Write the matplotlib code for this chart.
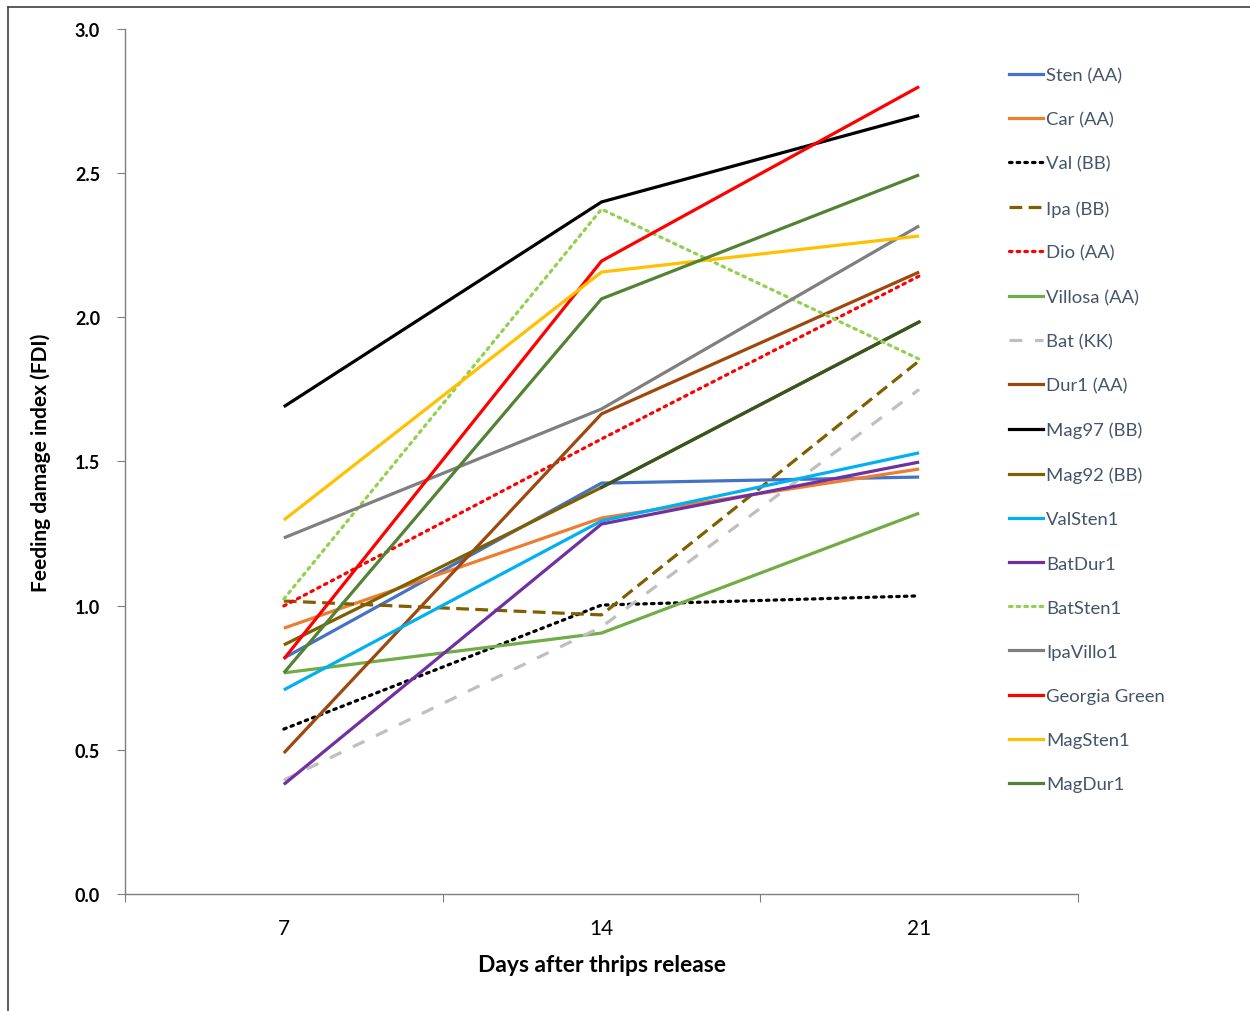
import matplotlib.pyplot as plt
from matplotlib.lines import Line2D

# ---------------- дані ----------------
days = ["7", "14", "21"]

sten = [0.818, 1.425, 1.446]
car = [0.922, 1.304, 1.474]
val = [0.572, 1.002, 1.034]
ipa = [1.016, 0.968, 1.849]
dio = [0.999, 1.578, 2.143]
villosa = [0.767, 0.905, 1.321]
bat = [0.395, 0.926, 1.750]
dur1 = [0.489, 1.665, 2.157]
mag97 = [1.690, 2.400, 2.700]
mag92 = [0.864, 1.410, 1.984]
valsten1 = [0.708, 1.294, 1.530]
batdur1 = [0.380, 1.283, 1.498]
batsten1 = [1.023, 2.375, 1.855]
ipavillo1 = [1.235, 1.682, 2.317]
georgia = [0.815, 2.195, 2.800]
magsten1 = [1.297, 2.157, 2.282]
magdur1 = [0.767, 2.064, 2.494]

dot = (0, (0.8, 1.6))
dash = (0, (4, 2))
longdash = (0, (4, 4))

series = [
    ("Sten (AA)", sten, "#4472C4", "-"),
    ("Car (AA)", car, "#ED7D31", "-"),
    ("Val (BB)", val, "black", dot),
    ("Ipa (BB)", ipa, "#7F6000", dash),
    ("Dio (AA)", dio, "#FF0000", dot),
    ("Villosa (AA)", villosa, "#70AD47", "-"),
    ("Bat (KK)", bat, "#BFBFBF", longdash),
    ("Dur1 (AA)", dur1, "#9E480E", "-"),
    ("Mag97 (BB)", mag97, "black", "-"),
    ("Mag92 (BB)", mag92, "#7F6000", "-"),
    ("ValSten1", valsten1, "#00B0F0", "-"),
    ("BatDur1", batdur1, "#7030A0", "-"),
    ("BatSten1", batsten1, "#92D050", dot),
    ("IpaVillo1", ipavillo1, "#7F7F7F", "-"),
    ("Georgia Green", georgia, "#FF0000", "-"),
    ("MagSten1", magsten1, "#FFC000", "-"),
    ("MagDur1", magdur1, "#548235", "-"),
]

plt.rcParams['font.family'] = ['Lato', 'DejaVu Sans']

fig = plt.figure(figsize=(12.5, 10.12), dpi=100)
ax = fig.add_axes([0.1, 0.1156, 0.7624, 0.8548])

x = [1, 2, 3]
handles = []
for name, vals, col, ls in series:
    ln, = ax.plot(x, vals, color=col, linestyle=ls, linewidth=2.3,
                  dash_capstyle="round" if ls == dot else "butt",
                  solid_capstyle="butt")
    if name == "Mag92 (BB)":
        # відрізок 14 -> 21 у темно-зеленому кольорі, як в оригіналі
        ax.plot(x[1:], vals[1:], color="#375623", linewidth=2.3)
    handles.append(Line2D([], [], color=col, linestyle=ls, linewidth=2.3,
                          dash_capstyle="round" if ls == dot else "butt"))

ax.set_xlim(0.5, 3.5)
ax.set_ylim(0, 3.0)
ax.set_yticks([0, 0.5, 1.0, 1.5, 2.0, 2.5, 3.0])
ax.set_yticklabels(["0.0", "0.5", "1.0", "1.5", "2.0", "2.5", "3.0"],
                   fontweight="bold", fontsize=13)
ax.set_xticks([0.5, 1.5, 2.5, 3.5])
ax.set_xticklabels([])
ax.set_xticks(x, minor=True)
ax.set_xticklabels(days, minor=True, fontsize=15)
ax.tick_params(axis="x", which="minor", length=0, pad=17)
ax.tick_params(axis="x", which="major", length=6, color="#7F7F7F")
ax.tick_params(axis="y", length=6, color="#7F7F7F", pad=12)

for s in ["top", "right"]:
    ax.spines[s].set_visible(False)
for s in ["left", "bottom"]:
    ax.spines[s].set_color("#7F7F7F")
    ax.spines[s].set_linewidth(1)

ax.set_ylabel("Feeding damage index (FDI)", fontweight="bold", fontsize=15, labelpad=17)
ax.set_xlabel("Days after thrips release", fontweight="bold", fontsize=16.5, labelpad=12)

leg = fig.legend(handles, [s[0] for s in series], loc="upper left",
                 bbox_to_anchor=(0.8015, 0.94), frameon=False,
                 fontsize=13.3, handlelength=1.85, handletextpad=0.15,
                 labelspacing=1.525, borderaxespad=0)
for t in leg.get_texts():
    t.set_color("#44546A")

# рамка області діаграми
fig.add_artist(Line2D([8 / 1250, 8 / 1250], [0, 1 - 8 / 1012], color="#404040", linewidth=1.2))
fig.add_artist(Line2D([8 / 1250, 1], [1 - 8 / 1012, 1 - 8 / 1012], color="#404040", linewidth=1.2))

fig.savefig("out.png", dpi=100)
